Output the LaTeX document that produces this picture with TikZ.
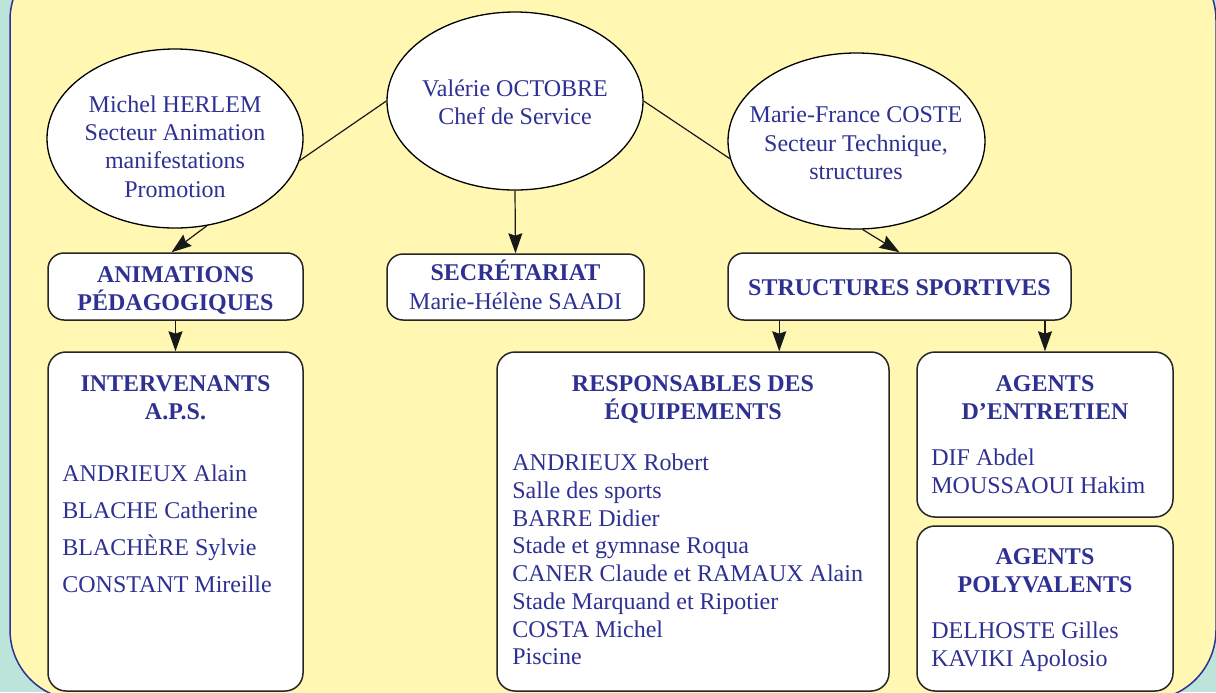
\documentclass[tikz,border=0pt]{standalone}
\usepackage{fontspec}
\setmainfont{Liberation Serif}
\usetikzlibrary{arrows.meta,shapes.geometric}
\definecolor{bgteal}{RGB}{188,228,218}
\definecolor{panelyellow}{RGB}{255,247,178}
\definecolor{ink}{RGB}{46,49,146}
\begin{document}
\begin{tikzpicture}[x=0.5pt,y=-0.5pt,
  txt/.style={font=\fontsize{12}{14.25}\selectfont, text=ink, inner sep=0pt},
  ctr/.style={txt, anchor=base},
  lft/.style={txt, anchor=base west},
  bold/.style={font=\fontsize{12}{14.25}\selectfont\bfseries},
  oval/.style={ellipse, draw=black, line width=0.65pt, fill=white, inner sep=0pt},
  box/.style={rectangle, draw=black!85, line width=0.75pt, fill=white, rounded corners=8pt, inner sep=0pt},
  conn/.style={draw=black!90, line width=0.6pt},
  arr/.style={conn, -{Stealth[length=10pt,width=7pt,inset=1.2pt]}}
]
\useasboundingbox (0,0) rectangle (1216,692);
\fill[bgteal] (0,0) rectangle (1216,692);
\begin{scope}
\clip (0,0) rectangle (1216,692);
\draw[draw=ink, fill=panelyellow, line width=0.75pt, rounded corners=35pt] (10,-50) rectangle (1216,700);
\end{scope}

% ellipses
\node[oval, minimum width=128pt, minimum height=89.5pt] (herlem) at (175,138.5) {};
\node[oval, minimum width=128pt, minimum height=89pt] (octobre) at (515,101) {};
\node[oval, minimum width=128.5pt, minimum height=88pt] (coste) at (856.5,141) {};

% boxes
\node[box, minimum width=127.5pt, minimum height=33.5pt] (anim) at (175.5,286.5) {};
\node[box, minimum width=128.5pt, minimum height=33pt] (secr) at (515.5,287) {};
\node[box, minimum width=171.5pt, minimum height=33.5pt] (struct) at (899.5,286.5) {};
\node[box, rounded corners=9pt, minimum width=127.5pt, minimum height=169.5pt] (interv) at (175.5,521.5) {};
\node[box, rounded corners=9pt, minimum width=196pt, minimum height=169.5pt] (resp) at (693,521.5) {};
\node[box, rounded corners=9pt, minimum width=128pt, minimum height=82.5pt] (ent) at (1045,434.5) {};
\node[box, rounded corners=9pt, minimum width=128pt, minimum height=82.5pt] (poly) at (1045,608.5) {};

% connectors
\draw[conn] (octobre.west) -- (herlem.-10.6);
\draw[conn] (octobre.east) -- (coste.188.6);
\draw[arr] (herlem.-70) -- ([xshift=-2pt]anim.north);
\draw[arr] (octobre.south) -- (secr.north);
\draw[arr] (coste.-86) -- (struct.north);
\draw[arr] (anim.south) -- (interv.north);
\draw[arr] ([xshift=26pt]struct.south west) -- ([xshift=26pt]struct.south west |- resp.north);
\draw[arr] (struct.south -| ent.north) -- (ent.north);

% ellipse texts
\node[ctr] (h1) at (175,112) {Michel HERLEM};
\node[ctr] (h2) at (175,140) {Secteur Animation};
\node[ctr] (h3) at (175,168) {manifestations};
\node[ctr] (h4) at (175,197) {Promotion};
\node[ctr] (o1) at (515,96) {Valérie OCTOBRE};
\node[ctr] (o2) at (515,124) {Chef de Service};
\node[ctr] (c1) at (856,122) {Marie-France COSTE};
\node[ctr] (c2) at (856,151) {Secteur Technique,};
\node[ctr] (c3) at (856,179) {structures};

% box texts
\node[ctr, bold] (a1) at (175.5,282) {ANIMATIONS};
\node[ctr, bold] (a2) at (175.5,310) {PÉDAGOGIQUES};
\node[ctr, bold] (s1) at (515.5,280) {SECRÉTARIAT};
\node[ctr] (s2) at (515.5,309) {Marie-Hélène SAADI};
\node[ctr, bold] (st1) at (899.5,295) {STRUCTURES SPORTIVES};

\node[ctr, bold] (i1) at (175.5,391) {INTERVENANTS};
\node[ctr, bold] (i2) at (175.5,419) {A.P.S.};
\node[lft] (i3) at (62,481) {ANDRIEUX Alain};
\node[lft] (i4) at (62,518) {BLACHE Catherine};
\node[lft] (i5) at (62,555) {BLACHÈRE Sylvie};
\node[lft] (i6) at (62,592) {CONSTANT Mireille};

\node[ctr, bold] (r1) at (693,391) {RESPONSABLES DES};
\node[ctr, bold] (r2) at (693,419) {ÉQUIPEMENTS};
\node[lft] (r3) at (512,470) {ANDRIEUX Robert};
\node[lft] (r4) at (512,498) {Salle des sports};
\node[lft] (r5) at (512,526) {BARRE Didier};
\node[lft] (r6) at (512,553.5) {Stade et gymnase Roqua};
\node[lft] (r7) at (512,581) {CANER Claude et RAMAUX Alain};
\node[lft] (r8) at (512,609) {Stade Marquand et Ripotier};
\node[lft] (r9) at (512,637) {COSTA Michel};
\node[lft] (r10) at (512,664) {Piscine};

\node[ctr, bold] (e1) at (1045,391) {AGENTS};
\node[ctr, bold] (e2) at (1045,419) {D’ENTRETIEN};
\node[lft] (e3) at (931,465) {DIF Abdel};
\node[lft] (e4) at (931,493) {MOUSSAOUI Hakim};

\node[ctr, bold] (p1) at (1045,564) {AGENTS};
\node[ctr, bold] (p2) at (1045,592.5) {POLYVALENTS};
\node[lft] (p3) at (931,638) {DELHOSTE Gilles};
\node[lft] (p4) at (931,666) {KAVIKI Apolosio};
\end{tikzpicture}
\end{document}
